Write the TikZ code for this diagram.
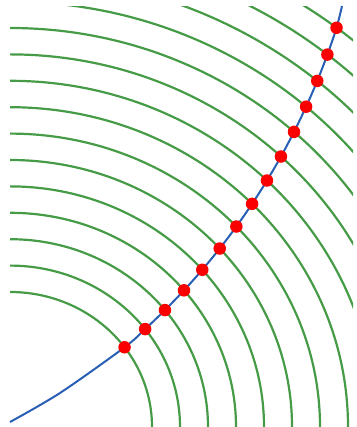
\documentclass[tikz,border=0pt]{standalone}
\definecolor{arcgreen}{RGB}{70,155,70}
\definecolor{curveblue}{RGB}{40,95,180}
\definecolor{dotred}{RGB}{250,0,0}
\tikzset{
    wave/.style={draw=arcgreen, line width=2.2pt},
    ray/.style={draw=curveblue, line width=2pt},
    hit/.style={shape=circle, fill=dotred, inner sep=0pt, minimum size=12.5pt},
}
\begin{document}
\begin{tikzpicture}[x=1pt, y=1pt]
    \useasboundingbox (0,0) rectangle (356,427);
    \begin{scope}
        \clip (10,0) rectangle (353,420);
        \foreach \k in {0,...,14}
            \draw[wave] (10,0) ellipse [x radius={142+28*\k}, y radius={135+26.4*\k}];
    \end{scope}
    
    \coordinate (s) at (10,5);
    \coordinate (m) at (60,34);
    \coordinate (e) at (342,421);
    \foreach \k in {0,...,14}
        \coordinate (p\k) at ({10+(142+28*\k)*cos(36.2+1.15*\k)}, {(135+26.4*\k)*sin(36.2+1.15*\k)});
    
    \draw[ray] plot[smooth] coordinates {(s) (m) (p0) (p1) (p2) (p3) (p4) (p5) (p6) (p7) (p8) (p9) (p10) (p11) (p12) (p13) (p14) (e)};
    
    \foreach \k in {0,...,14}
        \node (dot\k) at (p\k) [hit] {};
\end{tikzpicture}
\end{document}
